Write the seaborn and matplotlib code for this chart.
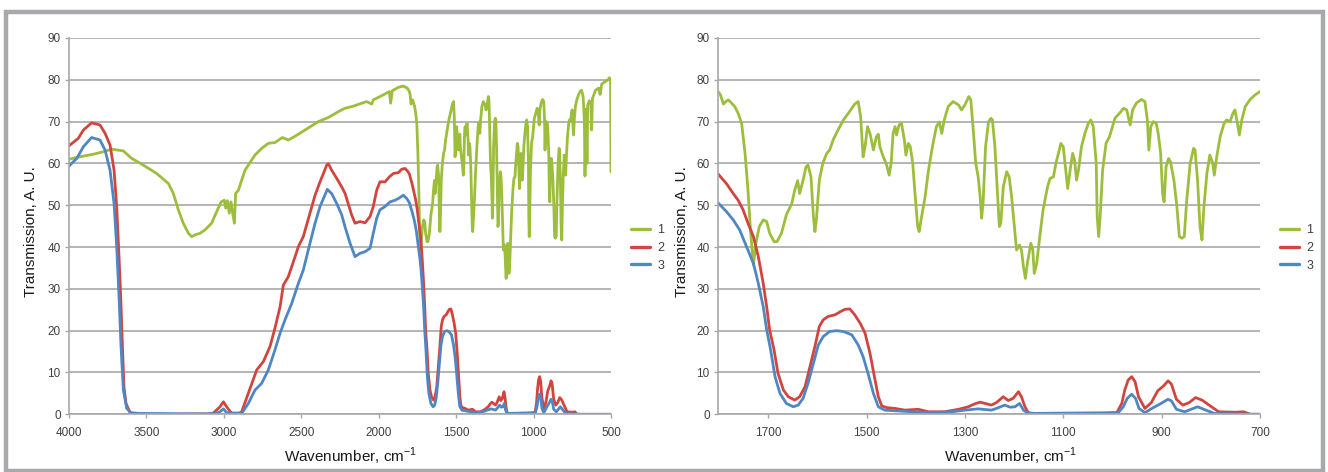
import numpy as np
import pandas as pd
import seaborn as sns
import matplotlib.pyplot as plt
from matplotlib.lines import Line2D
from matplotlib.patches import Rectangle

# ---- values ----
# series 1 (green), 4000-1815 cm-1
wn1_hi = [4000, 3929, 3843, 3778, 3724, 3649, 3595, 3520, 3434, 3358,
          3326, 3294, 3262, 3229, 3208, 3186, 3154, 3122, 3079, 3046,
          3018, 2997, 2988, 2977, 2965, 2954, 2945, 2932, 2924, 2906,
          2885, 2863, 2842, 2799, 2756, 2713, 2670, 2622, 2584, 2540,
          2476, 2390, 2325, 2250, 2217, 2164, 2078, 2045, 2035, 1970,
          1931, 1923, 1912, 1873, 1841, 1815]
t1_hi = [61.0, 61.6, 62.2, 62.8, 63.4, 63.0, 61.2, 59.6, 57.6, 55.2,
         52.8, 48.9, 45.7, 43.3, 42.5, 42.9, 43.3, 44.1, 45.7, 48.5,
         50.8, 51.2, 49.3, 51.1, 48.1, 50.8, 48.5, 45.7, 52.8, 53.6,
         56.0, 58.4, 59.6, 62.0, 63.6, 64.8, 65.0, 66.2, 65.6, 66.5,
         68.0, 70.0, 71.0, 72.6, 73.2, 73.7, 74.8, 74.2, 75.2, 76.4,
         77.2, 74.4, 77.4, 78.2, 78.5, 78.0]

# series 1, 1802-700 cm-1 (right chart)
wn1_fp = [1802, 1797, 1791, 1786, 1781, 1775, 1768, 1761, 1754, 1747,
          1741, 1736, 1730, 1725, 1718, 1710, 1703, 1697, 1688, 1682,
          1673, 1663, 1652, 1646, 1640, 1636, 1629, 1623, 1619, 1613,
          1608, 1605, 1602, 1596, 1589, 1581, 1575, 1568, 1558, 1547,
          1537, 1524, 1517, 1512, 1507, 1503, 1498, 1493, 1486, 1480,
          1476, 1473, 1466, 1459, 1454, 1450, 1446, 1442, 1439, 1434,
          1429, 1423, 1420, 1415, 1411, 1406, 1402, 1396, 1393, 1388,
          1381, 1374, 1366, 1358, 1352, 1347, 1342, 1334, 1324, 1313,
          1307, 1300, 1292, 1288, 1283, 1278, 1273, 1269, 1266, 1263,
          1258, 1252, 1247, 1244, 1239, 1234, 1230, 1227, 1222, 1215,
          1210, 1205, 1200, 1195, 1189, 1185, 1181, 1177, 1173, 1166,
          1162, 1159, 1154, 1147, 1141, 1132, 1127, 1120, 1115, 1109,
          1105, 1100, 1095, 1091, 1086, 1081, 1077, 1073, 1069, 1063,
          1056, 1049, 1044, 1039, 1033, 1031, 1028, 1025, 1020, 1013,
          1006, 1002, 995, 985, 977, 971, 964, 959, 951, 941,
          934, 929, 926, 922, 917, 911, 907, 902, 898, 895,
          891, 886, 882, 875, 869, 864, 859, 854, 849, 842,
          835, 832, 827, 822, 818, 814, 808, 802, 796, 793,
          788, 781, 773, 768, 761, 755, 751, 746, 742, 737,
          730, 720, 710, 700]
t1_fp = [77.2, 76.4, 74.2, 74.8, 75.2, 74.5, 73.6, 72.0, 69.6, 62.4,
         53.6, 44.1, 35.7, 40.9, 44.9, 46.5, 46.1, 43.3, 41.3, 41.3,
         43.3, 47.7, 50.4, 53.6, 55.9, 52.8, 56.0, 59.2, 59.6, 56.8,
         47.3, 43.7, 46.5, 56.0, 60.0, 62.4, 63.2, 65.6, 68.0, 70.4,
         72.0, 74.2, 74.8, 71.2, 61.6, 64.0, 68.8, 67.2, 63.2, 66.4,
         67.0, 64.0, 61.6, 59.6, 57.2, 60.0, 67.2, 68.8, 66.8, 69.2,
         69.6, 65.6, 62.0, 64.8, 64.0, 60.0, 53.6, 44.9, 43.7, 47.3,
         52.0, 58.4, 64.0, 68.8, 69.9, 67.2, 70.4, 73.6, 74.8, 74.0,
         72.8, 74.0, 76.0, 75.2, 68.0, 60.0, 56.8, 52.0, 46.9, 50.6,
         64.0, 70.0, 70.8, 70.4, 64.0, 53.6, 44.9, 45.7, 54.4, 58.0,
         56.8, 52.0, 45.7, 39.3, 40.5, 39.3, 35.3, 32.5, 36.1, 40.9,
         39.3, 33.7, 36.1, 43.3, 48.9, 54.4, 56.4, 56.8, 60.0, 62.8,
         64.8, 64.0, 58.4, 54.0, 58.4, 62.4, 60.8, 56.0, 58.4, 64.0,
         67.2, 69.6, 70.4, 68.8, 60.0, 47.3, 42.5, 47.3, 58.4, 64.8,
         66.4, 68.0, 70.8, 72.1, 73.2, 72.8, 69.2, 72.8, 74.5, 75.3,
         74.8, 70.4, 63.2, 68.8, 70.0, 69.6, 67.2, 62.4, 52.8, 50.8,
         59.2, 61.2, 60.4, 56.0, 49.7, 42.5, 42.1, 42.5, 51.2, 60.0,
         63.6, 63.2, 56.0, 44.9, 41.7, 49.7, 57.6, 62.0, 60.0, 57.2,
         61.6, 66.4, 69.6, 70.4, 70.0, 72.0, 72.8, 69.6, 66.8, 70.4,
         73.6, 75.3, 76.4, 77.2]

# series 1, 690-500 cm-1 (left chart only)
wn1_tail = [690, 680, 672, 668, 664, 660, 655, 650, 640, 630,
            625, 620, 600, 580, 570, 560, 540, 520, 510, 503, 500]
t1_tail = [77.5, 76.0, 70.0, 57.0, 66.0, 73.0, 60.0, 74.0, 75.0, 74.5,
           68.0, 75.5, 77.5, 78.0, 76.5, 79.0, 79.5, 80.0, 80.5, 80.0, 58.0]

# series 2 (red)
wn2_hi = [4000, 3994, 3940, 3907, 3854, 3800, 3767, 3735, 3709, 3692,
          3677, 3666, 3655, 3645, 3632, 3606, 3520, 3300, 3100, 3068,
          3025, 3003, 2982, 2950, 2900, 2885, 2842, 2788, 2745, 2702,
          2670, 2637, 2616, 2584, 2540, 2519, 2487, 2444, 2411, 2379,
          2357, 2336, 2325, 2304, 2271, 2239, 2217, 2175, 2153,
          2121, 2088, 2056, 2035, 2013, 1992, 1959, 1931, 1905, 1873,
          1852, 1830, 1815]
t2_hi = [64.2, 64.4, 66.0, 68.0, 69.7, 69.2, 67.2, 64.4, 58.4, 49.7,
         37.7, 28.1, 16.2, 6.6, 2.6, 0.4, 0.1, 0.0, 0.1, 0.3,
         1.8, 3.0, 1.8, 0.2, 0.3, 0.6, 5.0, 10.6, 12.6, 16.2,
         20.6, 25.7, 30.9, 32.9, 37.7, 40.1, 42.5, 48.1, 52.4, 55.6,
         57.6, 59.6, 59.9, 58.4, 56.4, 54.4, 52.8, 47.7, 45.7,
         46.1, 45.8, 47.3, 49.7, 53.6, 55.6, 55.6, 56.8, 57.6, 57.8,
         58.6, 58.8, 58.2]
wn2_fp = [1802, 1785, 1771, 1761, 1751, 1741, 1730, 1720, 1710, 1703,
          1697, 1688, 1680, 1669, 1659, 1646, 1636, 1625, 1615, 1605,
          1596, 1588, 1578, 1564, 1554, 1544, 1534, 1524, 1513, 1503,
          1493, 1484, 1476, 1469, 1459, 1442, 1422, 1395, 1374, 1341,
          1313, 1293, 1280, 1269, 1259, 1246, 1236, 1222, 1212, 1202,
          1191, 1185, 1178, 1171, 1151, 1100, 1050, 991, 981, 975,
          968, 961, 954, 947, 934, 921, 908, 896, 887, 880,
          870, 857, 844, 831, 818, 801, 784, 750, 733, 720,
          700]
t2_fp = [57.5, 55.2, 52.8, 51.2, 48.9, 45.7, 42.5, 37.7, 31.3, 25.7,
         20.2, 15.4, 9.8, 5.8, 4.2, 3.4, 4.2, 6.6, 11.4, 16.2,
         21.0, 22.6, 23.4, 23.8, 24.5, 25.1, 25.2, 23.8, 21.8, 19.4,
         14.6, 9.0, 4.2, 2.0, 1.6, 1.4, 1.0, 1.2, 0.6, 0.6,
         1.2, 1.8, 2.5, 2.9, 2.6, 2.2, 2.8, 4.2, 3.3, 3.8,
         5.4, 4.2, 1.8, 0.4, 0.0, 0.1, 0.0, 0.4, 2.6, 5.8,
         8.2, 9.0, 7.8, 4.2, 1.4, 2.8, 5.6, 6.8, 8.0, 7.2,
         3.6, 2.2, 2.8, 4.0, 3.4, 2.0, 0.6, 0.5, 0.6, 0.0,
         0.0]
wn2_tail = [650, 500]
t2_tail = [0.0, 0.0]

# series 3 (blue)
wn3_hi = [4000, 3994, 3950, 3907, 3854, 3800, 3767, 3735, 3709, 3692,
          3677, 3664, 3649, 3627, 3595, 3100, 3050, 3025, 3003, 2982,
          2885, 2842, 2799, 2756, 2713, 2670, 2637, 2605, 2562, 2519,
          2487, 2444, 2411, 2379, 2357, 2332, 2304, 2271, 2239, 2218,
          2185, 2153, 2121, 2088, 2056, 2035, 2013, 1992, 1959, 1927,
          1895, 1873, 1841, 1819]
t3_hi = [59.4, 59.6, 61.2, 64.0, 66.2, 65.6, 63.2, 58.4, 50.4, 40.1,
         28.1, 16.2, 5.8, 1.4, 0.2, 0.1, 0.2, 0.6, 1.3, 0.4,
         0.2, 2.6, 5.8, 7.4, 10.6, 15.4, 19.4, 22.6, 26.5, 31.3,
         34.5, 40.9, 45.7, 49.7, 51.6, 53.8, 52.8, 50.4, 47.7, 44.9,
         40.9, 37.7, 38.5, 38.9, 39.7, 43.3, 46.9, 48.9, 49.7, 50.8,
         51.2, 51.6, 52.4, 51.6]
wn3_fp = [1802, 1785, 1771, 1758, 1744, 1730, 1720, 1710, 1703, 1695,
          1686, 1676, 1663, 1649, 1639, 1629, 1619, 1608, 1598, 1588,
          1575, 1561, 1547, 1534, 1530, 1517, 1507, 1497, 1486, 1476,
          1463, 1408, 1368, 1327, 1300, 1273, 1246, 1236, 1219, 1208,
          1198, 1189, 1181, 1171, 988, 978, 970, 961, 953, 946,
          934, 917, 904, 887, 880, 870, 853, 827, 810, 793,
          700]
t3_fp = [50.6, 48.5, 46.5, 44.1, 40.1, 36.1, 31.3, 25.7, 20.2, 15.4,
         9.0, 5.0, 2.6, 1.8, 2.2, 3.8, 7.4, 12.2, 16.6, 18.6,
         19.8, 20.0, 19.8, 19.2, 19.0, 16.6, 13.8, 9.8, 5.0, 1.8,
         1.0, 0.6, 0.4, 0.6, 1.0, 1.3, 1.0, 1.4, 2.2, 1.7,
         1.8, 2.6, 1.0, 0.2, 0.4, 1.8, 3.8, 4.8, 3.8, 1.4,
         0.4, 1.6, 2.4, 3.6, 3.2, 1.2, 0.6, 1.8, 1.0, 0.2,
         0.0]
wn3_tail = [650, 500]
t3_tail = [0.0, 0.0]

labels = ["1", "2", "3"]
colors = ["#9DBE3C", "#D2453F", "#4F86C4"]
left_ticks = [4000, 3500, 3000, 2500, 2000, 1500, 1000, 500]
right_ticks = [1700, 1500, 1300, 1100, 900, 700]
y_ticks = [0, 10, 20, 30, 40, 50, 60, 70, 80, 90]

# ---- build one long table ----
parts = []
for lab, wns, ts in [
    ("1", [wn1_hi, wn1_fp, wn1_tail], [t1_hi, t1_fp, t1_tail]),
    ("2", [wn2_hi, wn2_fp, wn2_tail], [t2_hi, t2_fp, t2_tail]),
    ("3", [wn3_hi, wn3_fp, wn3_tail], [t3_hi, t3_fp, t3_tail]),
]:
    parts.append(pd.DataFrame({"wn": np.concatenate(wns),
                               "T": np.concatenate(ts),
                               "sample": lab}))
df = pd.concat(parts, ignore_index=True)

sns.set_theme(style="white")
plt.rcParams["font.family"] = ["Liberation Sans", "DejaVu Sans"]

W, H = 1328, 472
fig = plt.figure(figsize=(W / 100, H / 100), dpi=100)
fig.patch.set_facecolor("white")

grid_c = "#A8A8A8"
tick_c = "#404040"


def make_panel(x0, xlim, xticks, ylab_x, xlab_x, leg_x):
    ax = fig.add_axes([x0 / W, 1 - 414.3 / H, 542 / W, 376.3 / H])
    sns.lineplot(data=df, x="wn", y="T", hue="sample", palette=colors,
                 hue_order=labels, sort=False, estimator=None,
                 linewidth=2.0, legend=False, ax=ax)
    ax.set_xlim(*xlim)
    ax.set_ylim(0, 90)
    ax.set_xticks(xticks)
    ax.set_yticks(y_ticks)
    ax.grid(axis="y", color=grid_c, linewidth=1.2)
    ax.set_axisbelow(True)
    for s in ["top", "right"]:
        ax.spines[s].set_visible(False)
    for s in ["left", "bottom"]:
        ax.spines[s].set_color(grid_c)
        ax.spines[s].set_linewidth(1.2)
    ax.tick_params(axis="both", direction="out", length=3, width=1,
                   color=grid_c, labelcolor=tick_c, labelsize=8.5,
                   bottom=True, left=True)
    ax.tick_params(axis="x", pad=6)
    ax.tick_params(axis="y", pad=3)
    ax.set_xlabel("Wavenumber, cm$^{\\mathregular{-1}}$", fontsize=11,
                  color="#1A1A1A")
    ax.set_ylabel("Transmission, A. U.", fontsize=11, color="#1A1A1A")
    ax.xaxis.set_label_coords(xlab_x, -0.084)
    ax.yaxis.set_label_coords(ylab_x, 0.485)
    handles = [Line2D([], [], color=c, lw=2.4) for c in colors]
    ax.legend(handles, labels, loc="center left",
              bbox_to_anchor=(leg_x / W, 1 - 248 / H),
              bbox_transform=fig.transFigure, frameon=False, fontsize=9,
              handlelength=1.5, handletextpad=0.6, labelspacing=0.45,
              borderpad=0, borderaxespad=0, labelcolor=tick_c)
    return ax


make_panel(69, (4000, 500), left_ticks, -0.057, 0.52, 631)
make_panel(718, (1802, 700), right_ticks, -0.054, 0.54, 1280)

# grey frame round the whole figure
fig.patches.append(Rectangle((6 / W, 1.5 / H), 1317 / W, 459 / H,
                             transform=fig.transFigure, fill=False,
                             edgecolor="#A7A9AC", linewidth=3.2))

fig.savefig("out.png", dpi=100)
